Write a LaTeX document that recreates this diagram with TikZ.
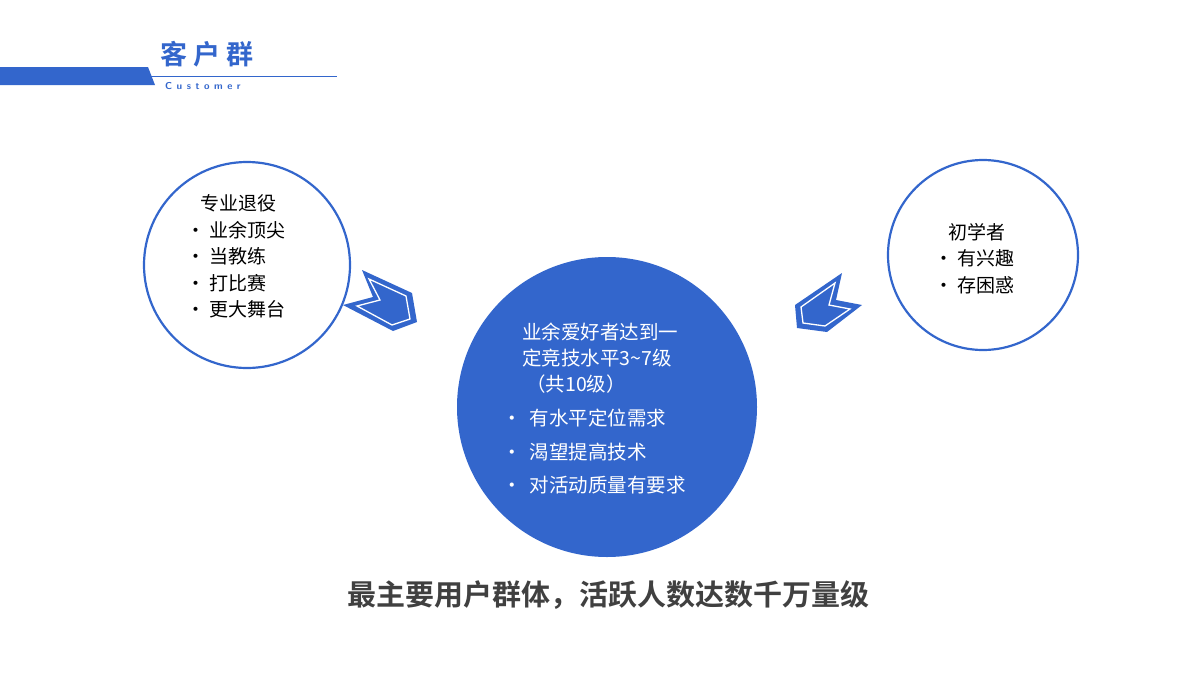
\documentclass[tikz,border=0pt]{standalone}
\usepackage{fontspec}
\setmainfont{Noto Sans CJK SC}
\newfontfamily\cjkb{Noto Sans CJK SC Bold}
\definecolor{bl}{HTML}{3366CC}
\definecolor{dg}{HTML}{404040}
\begin{document}
\begin{tikzpicture}[x=1pt,y=-1pt,
  ring/.style={draw=bl,line width=2.2pt},
  txt/.style={anchor=west,inner sep=0,font=\fontsize{19}{19}\selectfont},
  wtxt/.style={anchor=west,inner sep=0,text=white,font=\fontsize{19.5}{19.5}\selectfont}]
\useasboundingbox (0,0) rectangle (1200,675);
% header
\fill[bl] (0,67) -- (148,67) -- (155,85) -- (0,85) -- cycle;
\draw[bl,line width=1pt] (150,76) -- (337,76);
\node[inner sep=0,anchor=west,text=bl,font=\cjkb\fontsize{27}{27}\selectfont] (t) at (160,54) {客\hspace{6pt}户\hspace{6pt}群};
\node[inner sep=0,anchor=west,text=bl,font=\sffamily\bfseries\fontsize{10}{10}\selectfont] (c) at (165,86) {C\hspace{4.5pt}u\hspace{4.5pt}s\hspace{4.5pt}t\hspace{4.5pt}o\hspace{4.5pt}m\hspace{4.5pt}e\hspace{4.5pt}r};
% circles
\draw[ring] (247,265) circle (103) node (L) {};
\draw[ring] (983,255) circle (95) node (R) {};
\fill[bl] (607,407) circle (150) node (C) {};
% left text
\node[txt] (l0) at (200,203) {专业退役};
\foreach \t/\y [count=\i] in {业余顶尖/230,当教练/256,打比赛/283,更大舞台/309}
  \node[txt] (l\i) at (186,\y) {•\hspace{4pt}\t};
% right text
\node[txt] (r0) at (948,232) {初学者};
\node[txt] (r1) at (934,258) {•\hspace{4pt}有兴趣};
\node[txt] (r2) at (934,285) {•\hspace{4pt}存困惑};
% center text
\node[wtxt] (c1) at (522,332) {业余爱好者达到一};
\node[wtxt] (c2) at (522,358) {定竞技水平3\char"007E 7级};
\node[wtxt] (c3) at (526,384) {（共10级）};
\node[wtxt] (c4) at (502,418) {•\hspace{8pt}有水平定位需求};
\node[wtxt] (c5) at (502,452) {•\hspace{8pt}渴望提高技术};
\node[wtxt] (c6) at (502,485) {•\hspace{8pt}对活动质量有要求};
% chevrons
\fill[bl] (362,270) -- (412,293) -- (417,322) -- (393,331) -- (343,305) -- (373,297) -- cycle;
\draw[white,line width=1.3pt] (369,279) -- (406,296) -- (410,319) -- (392,325) -- (357,306) -- (380,300) -- cycle;
\fill[bl] (842,273) -- (836,300) -- (862,305) -- (827,332) -- (797,328) -- (795,305) -- cycle;
\draw[white,line width=1.3pt] (835,283) -- (829,305) -- (850,309) -- (825,326) -- (803,323) -- (801,307) -- cycle;
% bottom
\node[inner sep=0,text=dg,font=\cjkb\fontsize{29}{29}\selectfont] (b) at (608,595) {最主要用户群体，活跃人数达数千万量级};
\end{tikzpicture}
\end{document}
